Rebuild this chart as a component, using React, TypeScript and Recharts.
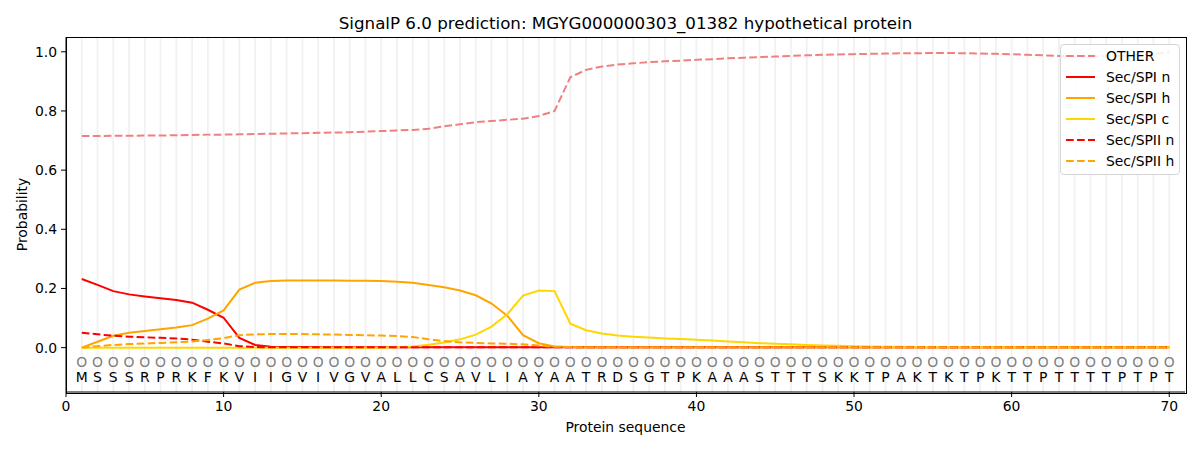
import React from 'react'
import {
  ComposedChart,
  Line,
  Scatter,
  XAxis,
  YAxis,
  ReferenceLine,
  Label,
} from 'recharts'

const FONT = '"DejaVu Sans", sans-serif'

const sequence = 'MSSSRPRKFKVIIGVIVGVALLCSAVLIAYAATRDSGTPKAAASTTTSKKTPAKTKTPKTTPTTTTPTPT'.split('')

const other = [
  0.715, 0.715, 0.716, 0.716, 0.717, 0.717, 0.718, 0.719, 0.72, 0.72,
  0.721, 0.722, 0.723, 0.724, 0.725, 0.726, 0.727, 0.728, 0.73, 0.732,
  0.734, 0.736, 0.74, 0.748, 0.755, 0.762, 0.766, 0.77, 0.774, 0.783,
  0.8, 0.914, 0.939, 0.95, 0.957, 0.961, 0.965, 0.968, 0.97, 0.973,
  0.975, 0.978, 0.98, 0.982, 0.984, 0.986, 0.988, 0.99, 0.991, 0.992,
  0.993, 0.994, 0.995, 0.995, 0.996, 0.996, 0.995, 0.994, 0.993, 0.992,
  0.99, 0.988, 0.986, 0.985, 0.985, 0.985, 0.986, 0.988, 0.992, 0.998,
]

const secSpiN = [
  0.232, 0.212, 0.191, 0.18, 0.173, 0.167, 0.161, 0.152, 0.128, 0.101,
  0.033, 0.009, 0.003, 0.002, 0.002, 0.001, 0.001, 0.001, 0.001, 0.001,
  0.001, 0.001, 0.001, 0.001, 0.001, 0.001, 0.001, 0.001, 0.001, 0.001,
  0.001, 0.001, 0.001, 0.001, 0.001, 0.001, 0.001, 0.001, 0.001, 0.001,
  0.001, 0.001, 0.001, 0.001, 0.001, 0.001, 0.001, 0.001, 0.001, 0.001,
  0.001, 0.001, 0.001, 0.001, 0.001, 0.001, 0.001, 0.001, 0.001, 0.001,
  0.001, 0.001, 0.001, 0.001, 0.001, 0.001, 0.001, 0.001, 0.001, 0.001,
]

const secSpiH = [
  0.0, 0.02, 0.04, 0.05, 0.056, 0.062, 0.068, 0.076, 0.098, 0.126,
  0.196, 0.219, 0.225, 0.227, 0.227, 0.227, 0.227, 0.226, 0.226, 0.225,
  0.223, 0.219, 0.212, 0.204, 0.193, 0.177, 0.149, 0.108, 0.042, 0.015,
  0.004, 0.002, 0.001, 0.001, 0.001, 0.001, 0.001, 0.001, 0.001, 0.001,
  0.001, 0.001, 0.001, 0.001, 0.001, 0.001, 0.001, 0.001, 0.001, 0.001,
  0.001, 0.001, 0.001, 0.001, 0.001, 0.001, 0.001, 0.001, 0.001, 0.001,
  0.001, 0.001, 0.001, 0.001, 0.001, 0.001, 0.001, 0.001, 0.001, 0.001,
]

const secSpiC = [
  0.0, 0.0, 0.0, 0.0, 0.0, 0.0, 0.0, 0.0, 0.0, 0.0,
  0.0, 0.0, 0.0, 0.0, 0.0, 0.0, 0.0, 0.0, 0.0, 0.0,
  0.001, 0.004, 0.01, 0.017, 0.028, 0.044, 0.071, 0.113, 0.176, 0.193,
  0.191, 0.081, 0.059, 0.048, 0.041, 0.037, 0.034, 0.031, 0.029, 0.027,
  0.024, 0.021, 0.018, 0.015, 0.013, 0.011, 0.009, 0.007, 0.006, 0.005,
  0.004, 0.003, 0.003, 0.002, 0.002, 0.002, 0.002, 0.002, 0.001, 0.001,
  0.001, 0.001, 0.001, 0.001, 0.001, 0.001, 0.001, 0.001, 0.001, 0.001,
]

const secSpiiN = [
  0.05, 0.045, 0.04, 0.037, 0.035, 0.033, 0.031, 0.027, 0.02, 0.014,
  0.005, 0.002, 0.001, 0.001, 0.001, 0.001, 0.001, 0.001, 0.001, 0.001,
  0.001, 0.001, 0.001, 0.001, 0.001, 0.001, 0.001, 0.001, 0.001, 0.001,
  0.001, 0.001, 0.001, 0.001, 0.001, 0.001, 0.001, 0.001, 0.001, 0.001,
  0.001, 0.001, 0.001, 0.001, 0.001, 0.001, 0.001, 0.001, 0.001, 0.001,
  0.001, 0.001, 0.001, 0.001, 0.001, 0.001, 0.001, 0.001, 0.001, 0.001,
  0.001, 0.001, 0.001, 0.001, 0.001, 0.001, 0.001, 0.001, 0.001, 0.001,
]

const secSpiiH = [
  0.0, 0.005, 0.009, 0.012, 0.014, 0.016, 0.018, 0.021, 0.026, 0.032,
  0.042, 0.045, 0.046, 0.046, 0.046, 0.045, 0.044, 0.043, 0.042, 0.041,
  0.039, 0.036, 0.028, 0.022, 0.018, 0.016, 0.014, 0.013, 0.011, 0.007,
  0.003, 0.002, 0.001, 0.001, 0.001, 0.001, 0.001, 0.001, 0.001, 0.001,
  0.001, 0.001, 0.001, 0.001, 0.001, 0.001, 0.001, 0.001, 0.001, 0.001,
  0.001, 0.001, 0.001, 0.001, 0.001, 0.001, 0.001, 0.001, 0.001, 0.001,
  0.001, 0.001, 0.001, 0.001, 0.001, 0.001, 0.001, 0.001, 0.001, 0.001,
]

const xTicks = [0, 10, 20, 30, 40, 50, 60, 70]
const yTicks = [0, 0.2, 0.4, 0.6, 0.8, 1.0]

const DASH = '7.7 3.3'

const series = [
  { key: 'OTHER', name: 'OTHER', color: '#f08080', dash: DASH },
  { key: 'spiN', name: 'Sec/SPI n', color: '#ff0000', dash: undefined },
  { key: 'spiH', name: 'Sec/SPI h', color: '#ffa500', dash: undefined },
  { key: 'spiC', name: 'Sec/SPI c', color: '#ffd700', dash: undefined },
  { key: 'spiiN', name: 'Sec/SPII n', color: '#ff0000', dash: DASH },
  { key: 'spiiH', name: 'Sec/SPII h', color: '#ffa500', dash: DASH },
]

const rows = sequence.map((aa, i) => ({
  pos: i + 1,
  aa,
  markY: -0.05,
  letterY: -0.1,
  OTHER: other[i],
  spiN: secSpiN[i],
  spiH: secSpiH[i],
  spiC: secSpiC[i],
  spiiN: secSpiiN[i],
  spiiH: secSpiiH[i],
}))

// chart box: margins + axis sizes below put the plot at x 66..1185, y 37..392
const PLOT = { left: 66, top: 37, width: 1119, height: 355 }

// legend sits over the plot like matplotlib's "best" location, so it is kept
// outside recharts (a recharts Legend would shrink the plot area)
function ChartLegend() {
  return (
    <div
      style={{
        position: 'absolute',
        top: 44,
        left: 1060,
        border: '1px solid #d6d6d6',
        borderRadius: 4,
        background: 'rgba(255,255,255,0.85)',
        padding: '0px 5px 3px 5px',
        fontFamily: FONT,
        fontSize: 13.9,
        color: '#000',
      }}
    >
      {series.map((s) => (
        <div key={s.key} style={{ display: 'flex', alignItems: 'center', height: 21 }}>
          <svg width={29} height={10}>
            <line x1={0} y1={5} x2={29} y2={5} stroke={s.color} strokeWidth={2} strokeDasharray={s.dash} />
          </svg>
          <span style={{ marginLeft: 11, whiteSpace: 'nowrap' }}>{s.name}</span>
        </div>
      ))}
    </div>
  )
}

const markShape = (props: any) => (
  <text
    x={props.cx}
    y={props.cy}
    textAnchor="middle"
    dominantBaseline="central"
    fontFamily={FONT}
    fontSize={13.9}
    fill="#808080"
  >
    O
  </text>
)

const letterShape = (props: any) => (
  <text
    x={props.cx}
    y={props.cy}
    textAnchor="middle"
    dominantBaseline="central"
    fontFamily={FONT}
    fontSize={13.9}
    fill="#000"
  >
    {props.payload.aa}
  </text>
)

export default function App() {
  const tickStyle = { fontSize: 13.9, fill: '#000', fontFamily: FONT }
  return (
    <div style={{ position: 'absolute', left: 0, top: 0, width: 1200, height: 450, background: '#fff', fontFamily: FONT }}>
      <div
        style={{
          position: 'absolute',
          top: 13,
          left: PLOT.left,
          width: PLOT.width,
          textAlign: 'center',
          fontSize: 16.7,
          lineHeight: '20px',
          color: '#000',
        }}
      >
        SignalP 6.0 prediction: MGYG000000303_01382 hypothetical protein
      </div>
      <ComposedChart width={1200} height={450} data={rows} margin={{ top: 37, right: 15, bottom: 0, left: 0 }}>
        <XAxis
          dataKey="pos"
          type="number"
          domain={[0, 71]}
          ticks={xTicks}
          allowDataOverflow
          stroke="#000"
          tick={tickStyle}
          tickSize={5}
          tickMargin={4}
          height={58}
        >
          <Label
            content={(p: any) => {
              const vb = p.viewBox
              return (
                <text
                  x={vb.x + vb.width / 2}
                  y={vb.y + 35}
                  textAnchor="middle"
                  dominantBaseline="central"
                  fontFamily={FONT}
                  fontSize={13.9}
                  fill="#000"
                >
                  Protein sequence
                </text>
              )
            }}
          />
        </XAxis>
        <YAxis
          type="number"
          domain={[-0.15, 1.05]}
          ticks={yTicks}
          allowDataOverflow
          stroke="#000"
          tick={tickStyle}
          tickSize={5}
          tickMargin={4}
          tickFormatter={(v: number) => v.toFixed(1)}
          width={66}
        >
          <Label
            content={(p: any) => {
              const vb = p.viewBox
              const cy = vb.y + vb.height / 2
              return (
                <text
                  x={22}
                  y={cy}
                  transform={`rotate(-90 22 ${cy})`}
                  textAnchor="middle"
                  dominantBaseline="central"
                  fontFamily={FONT}
                  fontSize={13.9}
                  fill="#000"
                >
                  Probability
                </text>
              )
            }}
          />
        </YAxis>
        {rows.map((r) => (
          <ReferenceLine key={`g-${r.pos}`} x={r.pos} stroke="#f1f1f1" strokeWidth={1.8} />
        ))}
        {series.map((s) => (
          <Line
            key={s.key}
            dataKey={s.key}
            name={s.name}
            stroke={s.color}
            strokeWidth={2}
            strokeDasharray={s.dash}
            dot={false}
            activeDot={false}
            type="linear"
            isAnimationActive={false}
          />
        ))}
        <Scatter dataKey="markY" shape={markShape} isAnimationActive={false} legendType="none" />
        <Scatter dataKey="letterY" shape={letterShape} isAnimationActive={false} legendType="none" />
      </ComposedChart>
      {/* axes frame (matplotlib draws all four spines) */}
      <div
        style={{
          position: 'absolute',
          left: PLOT.left - 0.5,
          top: PLOT.top - 0.5,
          width: PLOT.width,
          height: PLOT.height,
          border: '1px solid #000',
          pointerEvents: 'none',
        }}
      />
      <ChartLegend />
    </div>
  )
}
